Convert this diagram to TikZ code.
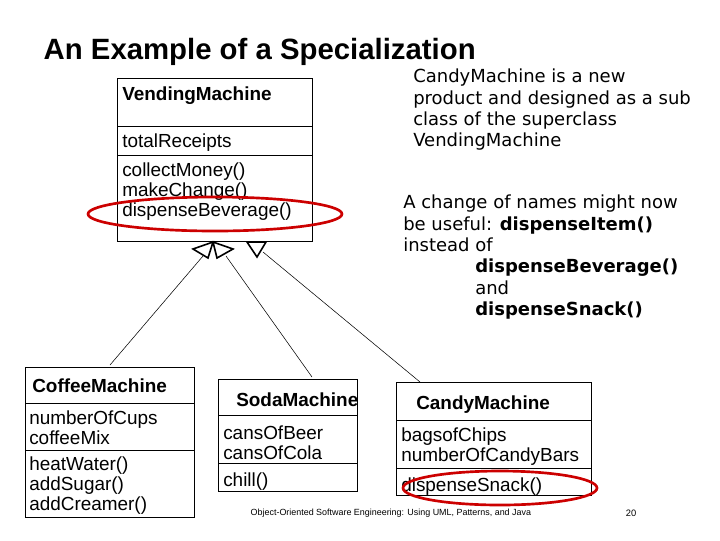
\documentclass[tikz,border=0pt]{standalone}
\usepackage{fontspec}
\setmainfont{Liberation Sans}
\newfontfamily\verd{DejaVu Sans}
\begin{document}
\begin{tikzpicture}[x=0.75pt,y=-0.75pt,
    box/.style={draw,anchor=north west,inner sep=0pt},
    txt/.style={anchor=west,inner sep=0pt,font=\fontsize{14.2}{15}\selectfont,align=left},
    ttl/.style={txt,font=\fontsize{14.2}{15}\selectfont\bfseries},
    note/.style={anchor=north west,inner sep=0pt,font=\verd\fontsize{13.5}{16}\selectfont,align=left},
    redmark/.style={draw=red!80!black,line width=2pt}]
  \useasboundingbox (0,0) rectangle (720,540);
  \node[anchor=west,font=\fontsize{22}{26}\selectfont\bfseries] (title) at (39,52) {An Example of a Specialization};

  % superclass
  \node[box,minimum width=195*0.75pt,minimum height=163*0.75pt] (vm) at (117,78) {};
  \draw (117,126) -- (312,126) (117,155) -- (312,155);
  \node[ttl] (vmn) at (122,96) {VendingMachine};
  \node[txt] (vma) at (122,143) {totalReceipts};
  \node[txt] (vmo) at (122,192) {collectMoney()\\makeChange()\\dispenseBeverage()};

  % subclasses
  \node[box,minimum width=169*0.75pt,minimum height=150*0.75pt] (cm) at (25,367) {};
  \draw (25,403) -- (194,403) (25,450) -- (194,450);
  \node[ttl] (cmn) at (32,386) {CoffeeMachine};
  \node[txt] (cma) at (29,428) {numberOfCups\\coffeeMix};
  \node[txt] (cmo) at (29,486) {heatWater()\\addSugar()\\addCreamer()};

  \node[box,minimum width=139*0.75pt,minimum height=112*0.75pt] (sm) at (218,379) {};
  \draw (218,415) -- (357,415) (218,463) -- (357,463);
  \node[ttl] (smn) at (236,400) {SodaMachine};
  \node[txt] (sma) at (223,443) {cansOfBeer\\cansOfCola};
  \node[txt] (smo) at (223,482) {chill()};

  \node[box,minimum width=195*0.75pt,minimum height=113*0.75pt] (ca) at (396,382) {};
  \draw (396,420) -- (591,420) (396,468) -- (591,468);
  \node[ttl] (can) at (416,405) {CandyMachine};
  \node[txt] (caa) at (401,447) {bagsofChips\\numberOfCandyBars};
  \node[txt] (cao) at (401,487) {dispenseSnack()};

  % inheritance triangles and lines
  \draw[line width=1.2pt] (213,242) -- (193,249) -- (208,258) -- cycle;
  \draw[line width=1.2pt] (213,242) -- (233,249) -- (217,258) -- cycle;
  \draw[line width=1.2pt] (247,242) -- (266,242) -- (257,257) -- cycle;
  \coordinate (t1) at (203,256);
  \coordinate (t2) at (226,256);
  \coordinate (t3) at (263,252);
  \draw (t1) -- (110,365);
  \draw (t2) -- (312,377);
  \draw (t3) -- (420,382);

  % highlights
  \draw[redmark] (215,214) ellipse (127 and 17);
  \draw[redmark] (500,488) ellipse (97 and 17);

  % notes
  \node[note] (n1) at (413,69) {CandyMachine is a new\\product and designed as a sub\\class of the superclass\\VendingMachine};
  \node[note] (n2) at (403,195) {A change of names might now\\be useful: \textbf{dispenseItem()}\\instead of\\\hspace*{54pt}\textbf{dispenseBeverage()}\\\hspace*{54pt}and\\\hspace*{54pt}\textbf{dispenseSnack()}};

  \node[anchor=west,font=\fontsize{6.7}{7}\selectfont] (foot) at (246,513) {Object-Oriented Software Engineering: Using UML, Patterns, and Java};
  \node[font=\fontsize{7}{8}\selectfont] (pg) at (631,513) {20};
\end{tikzpicture}
\end{document}
